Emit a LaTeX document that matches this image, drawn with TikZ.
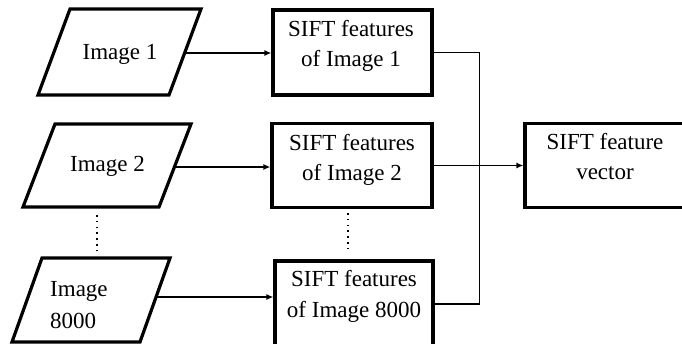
\documentclass[tikz,border=0pt]{standalone}
\usepackage{fontspec}
\setmainfont{Liberation Serif}
\usetikzlibrary{arrows.meta}
\begin{document}
\begin{tikzpicture}[x=1pt,y=-1pt,
  frame/.style={draw=black, line width=3.2pt, line join=miter},
  box/.style={frame, rectangle, inner sep=0pt},
  wire/.style={draw=black, line width=1.4pt},
  arr/.style={wire, -{Latex[length=7pt,width=6pt]}},
  dots/.style={draw=black, line width=1.6pt, dash pattern=on 1.6pt off 4.2pt},
  lbl/.style={font=\fontsize{23}{30}\selectfont, inner sep=0pt, anchor=base}]
\useasboundingbox (0,0) rectangle (682,344);
\clip (0,0) rectangle (682,344);

% input images (parallelograms)
\draw[frame] (70,9) -- (201,9) -- (169,95) -- (38,95) -- cycle;
\coordinate (p1) at (184.6,53);
\draw[frame] (55,124) -- (191,124) -- (159,207) -- (23,207) -- cycle;
\coordinate (p2) at (174.4,167);
\draw[frame] (42,258) -- (170,258) -- (140,342) -- (12,342) -- cycle;
\coordinate (p3) at (156,297);

\node[lbl] (i1) at (120,60) {Image 1};
\node[lbl] (i2) at (107.5,172) {Image 2};
\node[lbl, anchor=base west] (i3a) at (50,297) {Image};
\node[lbl, anchor=base west] (i3b) at (50,328) {8000};

% SIFT feature boxes
\node[box, minimum width=159pt, minimum height=85pt] (f1) at (352.5,52.5) {};
\node[box, minimum width=160pt, minimum height=84pt] (f2) at (352,165.5) {};
\node[box, minimum width=158pt, minimum height=86pt] (f3) at (354,304) {};
\node[box, minimum width=170pt, minimum height=84pt] (f4) at (610,165.5) {};

\node[lbl] (t1a) at (351,37) {SIFT features};
\node[lbl] (t1b) at (351,67) {of Image 1};
\node[lbl] (t2a) at (352,151) {SIFT features};
\node[lbl] (t2b) at (352,181) {of Image 2};
\node[lbl] (t3a) at (354,287) {SIFT features};
\node[lbl] (t3b) at (354,317) {of Image 8000};
\node[lbl] (t4a) at (605,150) {SIFT feature};
\node[lbl] (t4b) at (605,180) {vector};

% vertical ellipses
\coordinate (d1) at (97,215);
\coordinate (d2) at (97,252);
\draw[dots] (d1) -- (d2);
\coordinate (e1) at (348,213);
\coordinate (e2) at (348,252);
\draw[dots] (e1) -- (e2);

% connectors
\draw[arr] (p1) -- (p1 -| f1.west);
\draw[arr] (p2) -- (p2 -| f2.west);
\draw[arr] (p3) -- (p3 -| f3.west);
\draw[wire] (f1.east) -- ++(46,0) coordinate (j1) |- (f3.east);
\draw[arr] (f2.east) -- (f4.west);
\end{tikzpicture}
\end{document}
